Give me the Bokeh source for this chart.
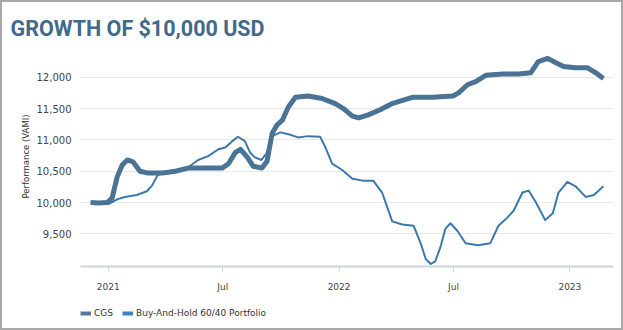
import pandas as pd
from bokeh.plotting import figure
from bokeh.layouts import column
from bokeh.models import (Range1d, FixedTicker, NumeralTickFormatter, Legend, LegendItem, Label, ColumnDataSource)
from bokeh.embed import file_html
from bokeh.resources import INLINE

# ---- data ----
cgs_dates = ["2020-12-04", "2020-12-16", "2020-12-30", "2021-01-07", "2021-01-15", "2021-01-23",
             "2021-01-31", "2021-02-09", "2021-02-20", "2021-03-05", "2021-03-27", "2021-04-17",
             "2021-05-07", "2021-06-03", "2021-06-30", "2021-07-10", "2021-07-21", "2021-07-29",
             "2021-08-09", "2021-08-18", "2021-09-01", "2021-09-09", "2021-09-17", "2021-09-25",
             "2021-10-03", "2021-10-13", "2021-10-24", "2021-11-13", "2021-12-05", "2021-12-26",
             "2022-01-08", "2022-01-22", "2022-02-01", "2022-02-16", "2022-03-07", "2022-03-26",
             "2022-04-11", "2022-04-27", "2022-05-29", "2022-06-30", "2022-07-09", "2022-07-23",
             "2022-08-05", "2022-08-21", "2022-09-17", "2022-10-12", "2022-10-31", "2022-11-12",
             "2022-11-27", "2022-12-10", "2022-12-22", "2023-01-10", "2023-01-29", "2023-02-11",
             "2023-02-23"]
cgs_values = [10000, 9995, 10000, 10070, 10410, 10600,
              10680, 10650, 10500, 10470, 10470, 10500,
              10550, 10550, 10550, 10620, 10800, 10850,
              10720, 10580, 10550, 10660, 11100, 11240,
              11310, 11530, 11680, 11700, 11660, 11580,
              11500, 11380, 11350, 11400, 11480, 11580,
              11630, 11680, 11680, 11700, 11750, 11880,
              11930, 12030, 12050, 12050, 12070, 12250,
              12300, 12230, 12170, 12150, 12150, 12070,
              11980]

bh_dates = ["2020-12-04", "2020-12-19", "2021-01-01", "2021-01-16", "2021-01-27", "2021-02-15",
            "2021-03-03", "2021-03-11", "2021-03-19", "2021-03-27", "2021-04-17", "2021-05-07",
            "2021-05-23", "2021-06-08", "2021-06-24", "2021-07-05", "2021-07-16", "2021-07-25",
            "2021-08-05", "2021-08-13", "2021-08-21", "2021-08-31", "2021-09-08", "2021-09-17",
            "2021-09-30", "2021-10-13", "2021-10-28", "2021-11-13", "2021-12-02", "2021-12-10",
            "2021-12-21", "2022-01-06", "2022-01-22", "2022-02-07", "2022-02-24", "2022-03-10",
            "2022-03-26", "2022-04-11", "2022-04-29", "2022-05-10", "2022-05-18", "2022-05-26",
            "2022-06-02", "2022-06-10", "2022-06-18", "2022-06-26", "2022-07-07", "2022-07-20",
            "2022-08-09", "2022-08-28", "2022-09-10", "2022-09-24", "2022-10-04", "2022-10-18",
            "2022-10-28", "2022-11-08", "2022-11-23", "2022-12-05", "2022-12-14", "2022-12-28",
            "2023-01-10", "2023-01-26", "2023-02-08", "2023-02-23"]
bh_values = [10000, 9990, 9975, 10055, 10090, 10120,
             10180, 10270, 10420, 10490, 10510, 10560,
             10680, 10740, 10850, 10880, 10980, 11050,
             10980, 10800, 10720, 10680, 10780, 11060,
             11120, 11090, 11040, 11060, 11050, 10890,
             10620, 10520, 10380, 10350, 10350, 10160,
             9700, 9650, 9630, 9350, 9100, 9020,
             9060, 9280, 9580, 9670, 9550, 9350,
             9320, 9350, 9630, 9760, 9870, 10160,
             10190, 10010, 9720, 9830, 10160, 10330,
             10260, 10090, 10120, 10260]

series_names = ["CGS", "Buy-And-Hold 60/40 Portfolio"]
y_ticks = [9500, 10000, 10500, 11000, 11500, 12000]
x_tick_dates = ["2021-01-01", "2021-07-01", "2022-01-01", "2022-07-01", "2023-01-01"]
x_tick_labels = ["2021", "Jul", "2022", "Jul", "2023"]
title_text = "GROWTH OF $10,000 USD"
y_label = "Performance (VAMI)"

# ---- title strip ----
h = figure(width=619, height=44, output_backend="svg", toolbar_location=None,
           x_range=Range1d(0, 1), y_range=Range1d(0, 1),
           x_axis_location=None, y_axis_location=None,
           min_border_left=0, min_border_right=0, min_border_top=0, min_border_bottom=0)
h.frame_align = False
h.outline_line_color = None
h.grid.visible = False
h.background_fill_color = "white"
h.border_fill_color = "white"
h.add_layout(Label(x=8, y=18, x_units="screen", y_units="screen", text=title_text,
                   text_font="Roboto", text_font_style="bold", text_font_size="21.5px",
                   text_color="#3f6a8c", text_baseline="alphabetic", text_align="left"))

# ---- main chart ----
cgs_src = ColumnDataSource(dict(x=pd.to_datetime(cgs_dates), y=cgs_values))
bh_src = ColumnDataSource(dict(x=pd.to_datetime(bh_dates), y=bh_values))

p = figure(width=605, height=248, output_backend="svg", toolbar_location=None,
           x_axis_type="datetime",
           x_range=Range1d(pd.Timestamp("2020-11-18"), pd.Timestamp("2023-03-11")),
           y_range=Range1d(8980, 12490),
           min_border_left=64, min_border_right=8, min_border_top=0, min_border_bottom=26,
           margin=(0, 0, 0, 14))
p.outline_line_color = None
p.background_fill_color = "white"
p.border_fill_color = "white"

p.line("x", "y", source=bh_src, line_color="#3d78ad", line_width=2, line_join="round")
p.line("x", "y", source=cgs_src, line_color="#4a7395", line_width=5, line_join="round")

# y axis
p.yaxis.ticker = FixedTicker(ticks=y_ticks)
p.yaxis.formatter = NumeralTickFormatter(format="0,0")
p.yaxis.axis_line_color = None
p.yaxis.major_tick_line_color = None
p.yaxis.major_tick_out = 0
p.yaxis.major_tick_in = 0
p.yaxis.minor_tick_line_color = None
p.yaxis.minor_tick_out = 0
p.yaxis.major_label_text_font = "DejaVu Sans"
p.yaxis.major_label_text_font_size = "10px"
p.yaxis.major_label_text_color = "#444444"
p.yaxis.major_label_standoff = 9
p.yaxis.axis_label = y_label
p.yaxis.axis_label_text_font = "DejaVu Sans"
p.yaxis.axis_label_text_font_size = "8.5px"
p.yaxis.axis_label_text_font_style = "normal"
p.yaxis.axis_label_text_color = "#333333"
p.yaxis.axis_label_standoff = 3
p.ygrid.ticker = FixedTicker(ticks=y_ticks)
p.ygrid.grid_line_color = "#e8e8e8"
p.xgrid.grid_line_color = None

# x axis
tick_ms = [pd.Timestamp(d).value // 10**6 for d in x_tick_dates]
p.xaxis.ticker = FixedTicker(ticks=tick_ms)
p.xaxis.major_label_overrides = {ms: lab for ms, lab in zip(tick_ms, x_tick_labels)}
p.xaxis.axis_line_color = "#cdd3db"
p.xaxis.axis_line_width = 2
p.xaxis.major_tick_line_color = "#cdd3db"
p.xaxis.major_tick_out = 5
p.xaxis.major_tick_in = 0
p.xaxis.minor_tick_line_color = None
p.xaxis.major_label_text_font = "DejaVu Sans"
p.xaxis.major_label_text_font_size = "9px"
p.xaxis.major_label_text_color = "#444444"
p.xaxis.major_label_standoff = 10

# ---- legend strip (series drawn out of view; only legend swatches visible) ----
q = figure(width=605, height=34, output_backend="svg", toolbar_location=None,
           x_range=Range1d(0, 1), y_range=Range1d(0, 1),
           x_axis_location=None, y_axis_location=None,
           min_border_left=64, min_border_right=0, min_border_top=0, min_border_bottom=0,
           margin=(0, 0, 0, 14))
q.frame_align = False
q.outline_line_color = None
q.grid.visible = False
q.background_fill_color = "white"
q.border_fill_color = "white"
l1 = q.line("x", "y", source=cgs_src, line_color="#56789a", line_width=4)
l2 = q.line("x", "y", source=bh_src, line_color="#3b80c0", line_width=4)
legend = Legend(items=[LegendItem(label=series_names[0], renderers=[l1]),
                       LegendItem(label=series_names[1], renderers=[l2])],
                orientation="horizontal", location=(0, 10),
                label_text_font="DejaVu Sans", label_text_font_size="9px", label_text_color="#333333",
                glyph_width=11, glyph_height=8, label_standoff=3, spacing=8,
                padding=0, margin=0, border_line_color=None, background_fill_alpha=0,
                label_height=8)
q.add_layout(legend, "center")

layout = column(h, p, q, width=623, height=330, spacing=0,
                styles={"border": "2px solid #a8a8a8", "box-sizing": "border-box"})

open("out.html", "w").write(file_html(layout, INLINE))
